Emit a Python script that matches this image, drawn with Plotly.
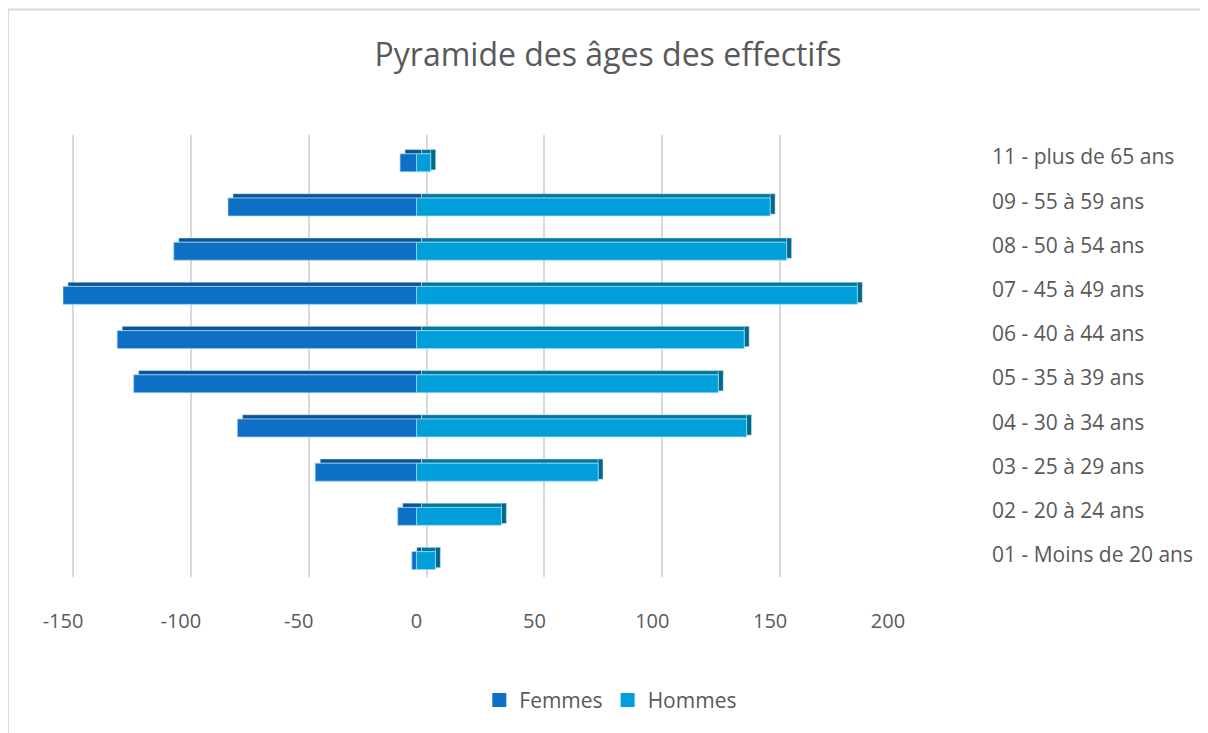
import plotly.graph_objects as go

# ---- data ----
categories = ["01 - Moins de 20 ans", "02 - 20 à 24 ans", "03 - 25 à 29 ans",
              "04 - 30 à 34 ans", "05 - 35 à 39 ans", "06 - 40 à 44 ans",
              "07 - 45 à 49 ans", "08 - 50 à 54 ans", "09 - 55 à 59 ans",
              "11 - plus de 65 ans"]
femmes = [-2, -8, -43, -76, -120, -127, -150, -103, -80, -7]
hommes = [8, 36, 77, 140, 128, 139, 187, 157, 150, 6]
x_ticks = [-150, -100, -50, 0, 50, 100, 150, 200]
x_tick_labels = ["-150", "-100", "-50", "0", "50", "100", "150", "200"]
series_names = ["Femmes", "Hommes"]

# ---- style ----
FONT = "Open Sans"
GREY = "#595959"
C_F, C_F_TOP = "#0E70C4", "#0B5597"
C_H, C_H_TOP, C_H_SIDE = "#009FD9", "#00789F", "#00698C"
DEPTH = 2.1          # 3D depth shift in data units
FRONT_OFF, FRONT_W = -0.331, 0.405
TOP_OFF, TOP_W = 0.074, 0.097

fig = go.Figure()

# top faces (3D effect)
fig.add_trace(go.Bar(y=categories, x=femmes, base=[DEPTH] * len(femmes),
                     orientation="h", marker_color=C_F_TOP, offset=TOP_OFF,
                     width=TOP_W, showlegend=False, hoverinfo="skip"))
fig.add_trace(go.Bar(y=categories, x=hommes, base=[DEPTH] * len(hommes),
                     orientation="h", marker_color=C_H_TOP, offset=TOP_OFF,
                     width=TOP_W, showlegend=False, hoverinfo="skip"))
# side faces
fig.add_trace(go.Bar(y=categories, x=[DEPTH] * len(hommes), base=hommes,
                     orientation="h", marker_color=C_H_SIDE, offset=-0.29,
                     width=0.46, showlegend=False, hoverinfo="skip"))
# front faces
fig.add_trace(go.Bar(name=series_names[0], y=categories, x=femmes,
                     orientation="h", marker_color=C_F, offset=FRONT_OFF,
                     width=FRONT_W, showlegend=False,
                     marker_line=dict(color="rgba(160,205,240,0.7)", width=1)))
fig.add_trace(go.Bar(name=series_names[1], y=categories, x=hommes,
                     orientation="h", marker_color=C_H, offset=FRONT_OFF,
                     width=FRONT_W, showlegend=False,
                     marker_line=dict(color="rgba(160,220,245,0.7)", width=1)))

# legend entries (square swatches)
for name, col in zip(series_names, [C_F, C_H]):
    fig.add_trace(go.Scatter(x=[None], y=[None], mode="markers", name=name,
                             marker=dict(symbol="square", size=14, color=col)))

# invisible trace for back-plane gridlines axis
fig.add_trace(go.Scatter(x=[0], y=[categories[0]], xaxis="x2", mode="markers",
                         marker=dict(opacity=0), showlegend=False,
                         hoverinfo="skip"))

shift_units = 10 / 2.357
fig.update_layout(
    width=1200, height=725,
    margin=dict(l=55, r=320, t=127, b=154),
    paper_bgcolor="white", plot_bgcolor="white",
    barmode="overlay",
    font=dict(family=FONT, color=GREY),
    title=dict(text="Pyramide des âges des effectifs", x=0.5, xanchor="center",
               y=0.935, yanchor="middle",
               font=dict(family=FONT, size=32, color=GREY)),
    xaxis=dict(range=[-150, 200], tickvals=x_ticks, ticktext=x_tick_labels,
               showgrid=False, zeroline=False, showline=False, ticks="",
               tickfont=dict(size=20, color=GREY), ticklabelstandoff=30),
    xaxis2=dict(range=[-150 - shift_units, 200 - shift_units], overlaying="x",
                tickvals=x_ticks, showgrid=True, gridcolor="#D9D9D9",
                gridwidth=2, showticklabels=False, zeroline=False,
                showline=False, ticks="", side="bottom"),
    yaxis=dict(type="category", categoryorder="array", categoryarray=categories,
               range=[-0.5, 9.5], side="right", showgrid=False, zeroline=False,
               showline=False, ticks="", tickfont=dict(size=21, color=GREY),
               ticklabelstandoff=103),
    legend=dict(orientation="h", x=0.664, xanchor="center", y=-0.279,
                yanchor="middle", font=dict(size=21, color=GREY),
                traceorder="normal", itemsizing="trace"),
    shapes=[dict(type="rect", xref="paper", yref="paper", x0=-0.0667, x1=1.6,
                 y0=-0.6, y1=1.284, line=dict(color="#D9D9D9", width=2),
                 layer="below")],
)

fig.write_html("out.html")
